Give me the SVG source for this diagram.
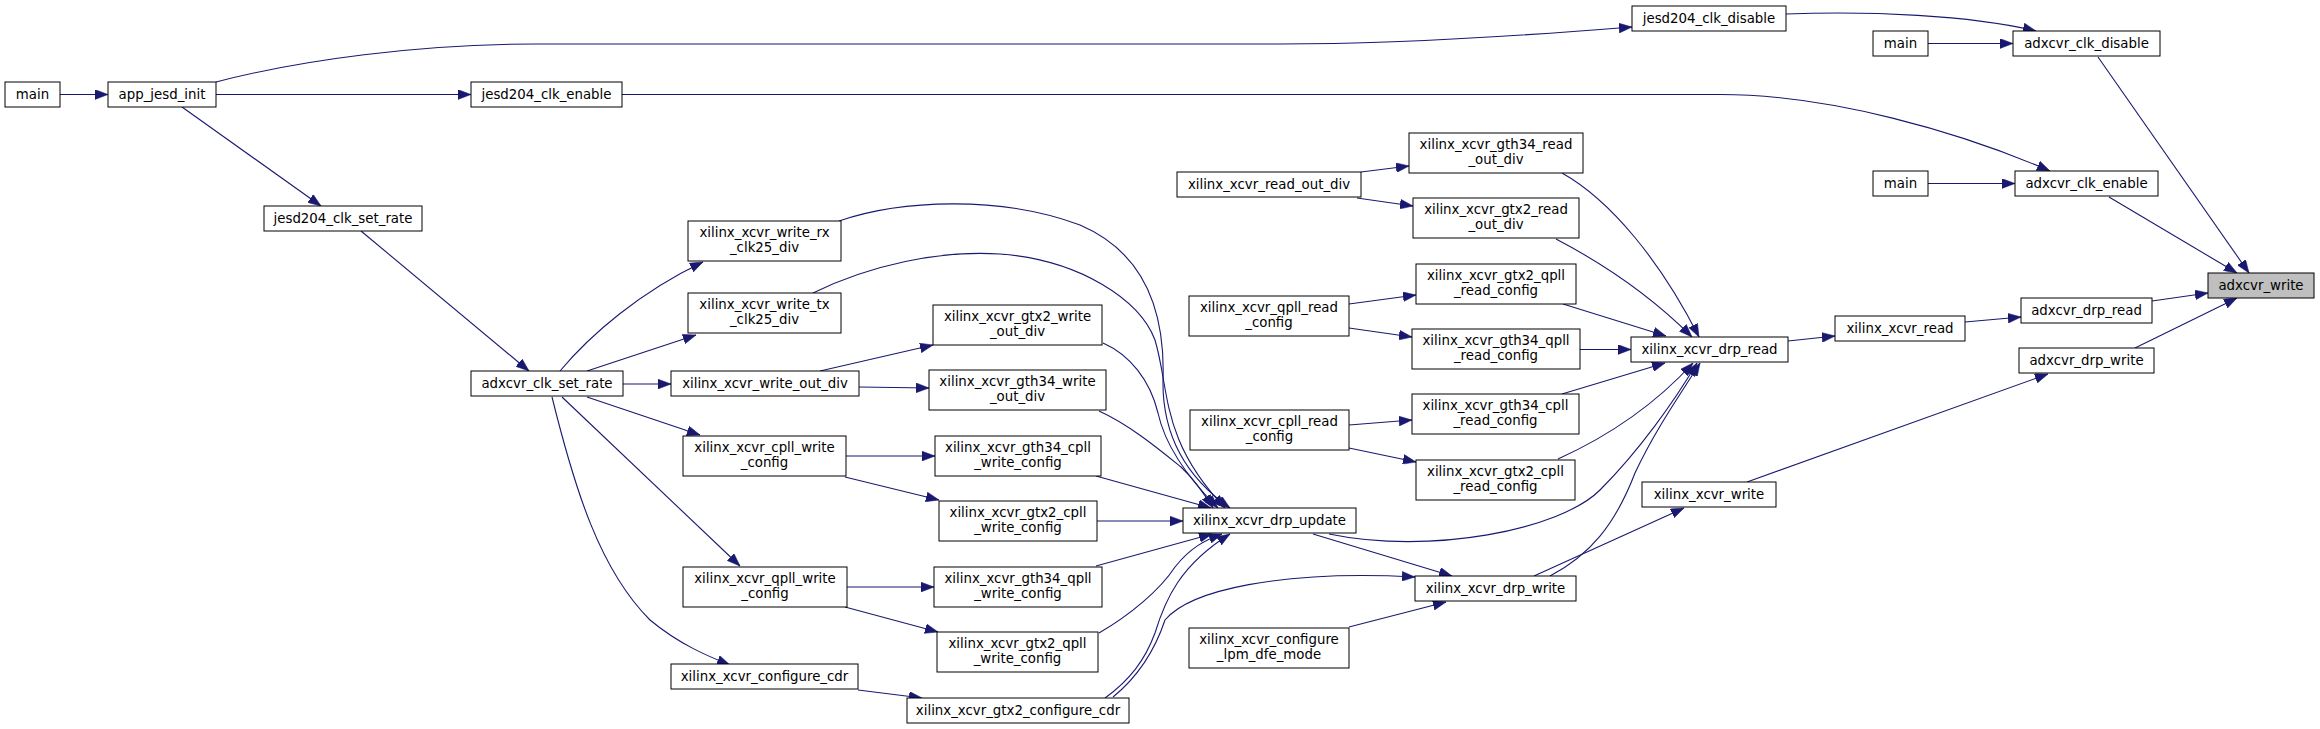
<svg xmlns="http://www.w3.org/2000/svg" width="2320" height="729" viewBox="0 0 2320 729">
<defs>
<style>
.n rect{fill:#fff;stroke:#000;stroke-width:1}
.n text{font-family:"DejaVu Sans",sans-serif;font-size:13.33px;fill:#000;text-anchor:middle}
.e path{fill:none;stroke:#191970;stroke-width:1.1;marker-end:url(#a)}
</style>
<marker id="a" markerUnits="userSpaceOnUse" markerWidth="13" markerHeight="10" viewBox="0 0 12 9" refX="12" refY="4.5" orient="auto">
<path d="M0,0 L12,4.5 L0,9 z" fill="#191970" stroke="#191970" stroke-width="0.5"/>
</marker>
</defs>
<rect width="2320" height="729" fill="#fff"/>
<g id="edges" class="e">
<path d="M60,94.5 L108,94.5"/>
<path d="M216,82 C300,60 420,44 536,44 L1280,44 C1400,44 1520,36 1632,27"/>
<path d="M216,94.5 L471,94.5"/>
<path d="M182,107 L321,206"/>
<path d="M361,231 L529,371"/>
<path d="M622,94.5 L1720,94.5 C1830,94.5 1960,132 2050,171"/>
<path d="M1786,14 C1870,11 1970,15 2036,31"/>
<path d="M1928,43.5 L2013,43.5"/>
<path d="M1928,183.5 L2015,183.5"/>
<path d="M2098,57 L2249,273"/>
<path d="M2109,197 L2237,273"/>
<path d="M2152,301 L2208,293"/>
<path d="M2135,348 L2237,298"/>
<path d="M1965,322 L2021,317"/>
<path d="M1747,482 L2048,374"/>
<path d="M1788,341 L1835,336"/>
<path d="M1534,576 L1684,508"/>
<path d="M1361,172 L1409,166"/>
<path d="M1357,198 L1413,206"/>
<path d="M1349,304 L1416,295"/>
<path d="M1349,328 L1412,337"/>
<path d="M1349,425 L1412,420"/>
<path d="M1349,448 L1416,462"/>
<path d="M1562,173 C1610,200 1660,260 1699,337"/>
<path d="M1556,239 C1600,262 1650,295 1692,337"/>
<path d="M1563,304 L1666,336"/>
<path d="M1580,349.5 L1631,349.5"/>
<path d="M1562,394 L1665,363"/>
<path d="M1558,459 C1600,440 1650,410 1693,363"/>
<path d="M1329,534 C1430,555 1560,530 1600,490 C1640,450 1675,400 1697,363"/>
<path d="M1550,576 C1590,555 1615,525 1635,473 C1655,430 1680,395 1700,363"/>
<path d="M1313,534 L1452,576"/>
<path d="M1349,627 L1446,602"/>
<path d="M1113,697 C1140,675 1155,650 1165,620 C1190,590 1280,570 1415,577"/>
<path d="M1105,698 C1130,680 1145,660 1155,633 C1165,600 1180,565 1230,534"/>
<path d="M1099,633 C1130,615 1160,590 1175,567 C1190,548 1205,540 1222,534"/>
<path d="M1096,566 L1212,534"/>
<path d="M1097,521 L1183,521"/>
<path d="M1096,476 L1211,508"/>
<path d="M1099,411 C1130,425 1160,450 1181,467 C1195,480 1205,495 1213,508"/>
<path d="M1103,343 C1130,355 1150,380 1158,413 C1165,445 1185,475 1218,508"/>
<path d="M813,293 C870,265 940,250 1000,254 C1080,260 1140,300 1155,340 C1170,390 1160,440 1225,508"/>
<path d="M839,221 C900,200 1000,195 1080,225 C1150,255 1165,320 1163,380 C1162,440 1190,480 1230,508"/>
<path d="M560,371 C590,335 640,292 703,262"/>
<path d="M587,371 L696,335"/>
<path d="M623,384 L671,384"/>
<path d="M587,397 L700,435"/>
<path d="M562,397 L740,566"/>
<path d="M552,397 C575,490 600,570 650,620 C680,645 710,657 730,665"/>
<path d="M820,371 L933,345"/>
<path d="M859,387 L929,388"/>
<path d="M846,456 L935,456"/>
<path d="M845,477 L939,500"/>
<path d="M847,587 L934,587"/>
<path d="M845,607 L938,632"/>
<path d="M858,690 L922,698"/>
</g>
<g id="n_main_a" class="n"><rect x="5" y="82" width="55" height="25"/><text x="32.5" y="99">main</text></g>
<g id="n_app_jesd_init" class="n"><rect x="108" y="82" width="108" height="25"/><text x="162" y="99">app_jesd_init</text></g>
<g id="n_jesd204_clk_enable" class="n"><rect x="471" y="82" width="151" height="25"/><text x="546.5" y="99">jesd204_clk_enable</text></g>
<g id="n_jesd204_clk_set_rate" class="n"><rect x="264" y="206" width="158" height="25"/><text x="343" y="223">jesd204_clk_set_rate</text></g>
<g id="n_jesd204_clk_disable" class="n"><rect x="1632" y="6" width="154" height="25"/><text x="1709" y="23">jesd204_clk_disable</text></g>
<g id="n_main_b" class="n"><rect x="1873" y="31" width="55" height="25"/><text x="1900.5" y="48">main</text></g>
<g id="n_adxcvr_clk_disable" class="n"><rect x="2013" y="31" width="147" height="25"/><text x="2086.5" y="48">adxcvr_clk_disable</text></g>
<g id="n_main_c" class="n"><rect x="1873" y="171" width="55" height="25"/><text x="1900.5" y="188">main</text></g>
<g id="n_adxcvr_clk_enable" class="n"><rect x="2015" y="171" width="143" height="25"/><text x="2086.5" y="188">adxcvr_clk_enable</text></g>
<g id="n_adxcvr_write" class="n"><rect x="2208" y="273" width="106" height="25" style="fill:#bfbfbf"/><text x="2261" y="290">adxcvr_write</text></g>
<g id="n_adxcvr_drp_read" class="n"><rect x="2021" y="298" width="131" height="25"/><text x="2086.5" y="315">adxcvr_drp_read</text></g>
<g id="n_adxcvr_drp_write" class="n"><rect x="2019" y="348" width="135" height="25"/><text x="2086.5" y="365">adxcvr_drp_write</text></g>
<g id="n_xilinx_xcvr_read" class="n"><rect x="1835" y="316" width="130" height="25"/><text x="1900" y="333">xilinx_xcvr_read</text></g>
<g id="n_xilinx_xcvr_write" class="n"><rect x="1642" y="482" width="134" height="25"/><text x="1709" y="499">xilinx_xcvr_write</text></g>
<g id="n_xilinx_xcvr_drp_read" class="n"><rect x="1631" y="337" width="157" height="25"/><text x="1709.5" y="354">xilinx_xcvr_drp_read</text></g>
<g id="n_xilinx_xcvr_drp_write" class="n"><rect x="1415" y="576" width="161" height="25"/><text x="1495.5" y="593">xilinx_xcvr_drp_write</text></g>
<g id="n_xilinx_xcvr_drp_update" class="n"><rect x="1183" y="508" width="173" height="25"/><text x="1269.5" y="525">xilinx_xcvr_drp_update</text></g>
<g id="n_configure_lpm_dfe_mode" class="n"><rect x="1189" y="628" width="160" height="40"/><text x="1269" y="644">xilinx_xcvr_configure</text><text x="1269" y="659">_lpm_dfe_mode</text></g>
<g id="n_gth34_read_out_div" class="n"><rect x="1409" y="133" width="174" height="40"/><text x="1496" y="149">xilinx_xcvr_gth34_read</text><text x="1496" y="164">_out_div</text></g>
<g id="n_gtx2_read_out_div" class="n"><rect x="1413" y="198" width="166" height="40"/><text x="1496" y="214">xilinx_xcvr_gtx2_read</text><text x="1496" y="229">_out_div</text></g>
<g id="n_gtx2_qpll_read_config" class="n"><rect x="1416" y="264" width="160" height="40"/><text x="1496" y="280">xilinx_xcvr_gtx2_qpll</text><text x="1496" y="295">_read_config</text></g>
<g id="n_gth34_qpll_read_config" class="n"><rect x="1412" y="329" width="168" height="40"/><text x="1496" y="345">xilinx_xcvr_gth34_qpll</text><text x="1496" y="360">_read_config</text></g>
<g id="n_gth34_cpll_read_config" class="n"><rect x="1412" y="394" width="167" height="40"/><text x="1495.5" y="410">xilinx_xcvr_gth34_cpll</text><text x="1495.5" y="425">_read_config</text></g>
<g id="n_gtx2_cpll_read_config" class="n"><rect x="1416" y="460" width="159" height="40"/><text x="1495.5" y="476">xilinx_xcvr_gtx2_cpll</text><text x="1495.5" y="491">_read_config</text></g>
<g id="n_read_out_div" class="n"><rect x="1177" y="172" width="184" height="25"/><text x="1269" y="189">xilinx_xcvr_read_out_div</text></g>
<g id="n_qpll_read_config" class="n"><rect x="1189" y="296" width="160" height="40"/><text x="1269" y="312">xilinx_xcvr_qpll_read</text><text x="1269" y="327">_config</text></g>
<g id="n_cpll_read_config" class="n"><rect x="1190" y="410" width="159" height="40"/><text x="1269.5" y="426">xilinx_xcvr_cpll_read</text><text x="1269.5" y="441">_config</text></g>
<g id="n_write_rx_clk25_div" class="n"><rect x="688" y="221" width="153" height="40"/><text x="764.5" y="237">xilinx_xcvr_write_rx</text><text x="764.5" y="252">_clk25_div</text></g>
<g id="n_write_tx_clk25_div" class="n"><rect x="688" y="293" width="153" height="40"/><text x="764.5" y="309">xilinx_xcvr_write_tx</text><text x="764.5" y="324">_clk25_div</text></g>
<g id="n_gtx2_write_out_div" class="n"><rect x="933" y="305" width="169" height="40"/><text x="1017.5" y="321">xilinx_xcvr_gtx2_write</text><text x="1017.5" y="336">_out_div</text></g>
<g id="n_write_out_div" class="n"><rect x="671" y="371" width="188" height="25"/><text x="765" y="388">xilinx_xcvr_write_out_div</text></g>
<g id="n_gth34_write_out_div" class="n"><rect x="929" y="370" width="177" height="40"/><text x="1017.5" y="386">xilinx_xcvr_gth34_write</text><text x="1017.5" y="401">_out_div</text></g>
<g id="n_cpll_write_config" class="n"><rect x="683" y="436" width="163" height="40"/><text x="764.5" y="452">xilinx_xcvr_cpll_write</text><text x="764.5" y="467">_config</text></g>
<g id="n_gth34_cpll_write_config" class="n"><rect x="935" y="436" width="166" height="40"/><text x="1018" y="452">xilinx_xcvr_gth34_cpll</text><text x="1018" y="467">_write_config</text></g>
<g id="n_gtx2_cpll_write_config" class="n"><rect x="939" y="501" width="158" height="40"/><text x="1018" y="517">xilinx_xcvr_gtx2_cpll</text><text x="1018" y="532">_write_config</text></g>
<g id="n_qpll_write_config" class="n"><rect x="683" y="567" width="164" height="40"/><text x="765" y="583">xilinx_xcvr_qpll_write</text><text x="765" y="598">_config</text></g>
<g id="n_gth34_qpll_write_config" class="n"><rect x="934" y="567" width="168" height="40"/><text x="1018" y="583">xilinx_xcvr_gth34_qpll</text><text x="1018" y="598">_write_config</text></g>
<g id="n_gtx2_qpll_write_config" class="n"><rect x="937" y="632" width="161" height="40"/><text x="1017.5" y="648">xilinx_xcvr_gtx2_qpll</text><text x="1017.5" y="663">_write_config</text></g>
<g id="n_configure_cdr" class="n"><rect x="671" y="664" width="187" height="25"/><text x="764.5" y="681">xilinx_xcvr_configure_cdr</text></g>
<g id="n_gtx2_configure_cdr" class="n"><rect x="907" y="698" width="222" height="25"/><text x="1018" y="715">xilinx_xcvr_gtx2_configure_cdr</text></g>
<g id="n_adxcvr_clk_set_rate" class="n"><rect x="471" y="371" width="152" height="25"/><text x="547" y="388">adxcvr_clk_set_rate</text></g>
</svg>
